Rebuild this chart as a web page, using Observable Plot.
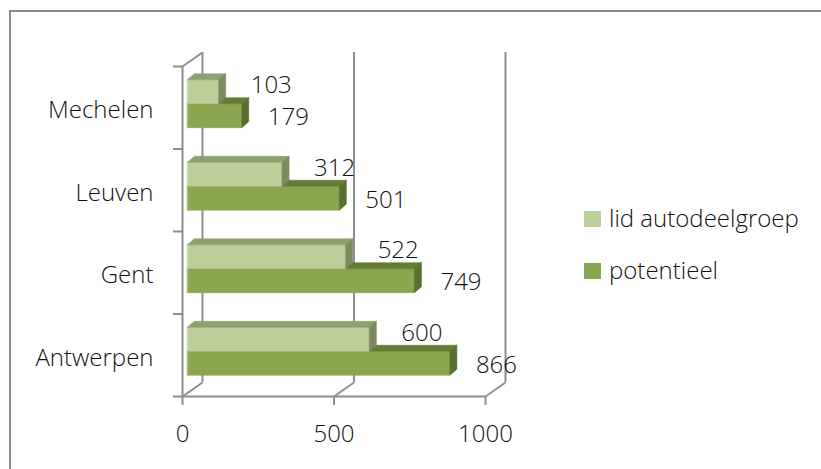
<!DOCTYPE html>
<html>
<head>
<meta charset="utf-8">
<script src="https://cdn.jsdelivr.net/npm/d3@7"></script>
<script src="https://cdn.jsdelivr.net/npm/@observablehq/plot@0.6"></script>
<style>
  html, body { margin: 0; padding: 0; background: #fff; }
  body { width: 821px; height: 469px; position: relative; overflow: hidden;
         font-family: "Segoe UI", "Open Sans", sans-serif; color: #111; }
  #border { position: absolute; left: 9px; top: 10px; width: 830px; height: 480px;
            border-left: 2px solid #8c8c8c; border-top: 2px solid #8c8c8c; }
  #chart { position: absolute; left: 0; top: 0; }
  .legend-row { position: absolute; left: 584px; font-size: 24px; line-height: 24px;
                font-weight: 300; white-space: nowrap; }
  .swatch { display: inline-block; width: 17px; height: 16px; margin-right: 8px; vertical-align: baseline; }
</style>
</head>
<body>
<div id="border"></div>
<div id="chart"></div>
<div id="legend"></div>
<script>
// Autodelen per stad: leden van een autodeelgroep versus het potentieel
const cities = ["Mechelen", "Leuven", "Gent", "Antwerpen"];
const members = [103, 312, 522, 600];      // lid autodeelgroep
const potential = [179, 501, 749, 866];    // potentieel
const xTicks = [0, 500, 1000];
const seriesNames = ["lid autodeelgroep", "potentieel"];

// Colours of the three visible faces of each bar
const palette = {
  lid: {front: "#bccf98", top: "#8fa070", side: "#7b8b5d"},
  pot: {front: "#8aa64f", top: "#647c36", side: "#58702d"}
};
const gridColor = "#8e8e8e";
const textColor = "#111111";

// Layout
const W = 560, H = 469;
const margin = {top: 66, right: 75, bottom: 73, left: 182};
const xMax = xTicks[xTicks.length - 1];
const nCat = cities.length;
const kx = (W - margin.left - margin.right) / xMax;   // px per value unit
const ky = (H - margin.top - margin.bottom) / nCat;   // px per category band

// pixel offsets for the pseudo-3D look
const FRONT = [5, -4];   // bar front faces sit a little behind the front plane
const DEPTH = [7, -6];   // thickness of the bars
const WALL = [20, -14];  // back wall
const BAND = [0.21, 0.5, 0.79]; // lid bar: BAND[0]..BAND[1], potentieel: BAND[1]..BAND[2]

const shift = (v, u, px, py) => ({x: v + px / kx, y: u + py / ky});

function faceRows(values, b0, b1, face) {
  const rows = [];
  values.forEach((v, i) => {
    const u1 = i + b0, u2 = i + b1;
    const f = (x, u) => shift(x, u, FRONT[0], FRONT[1]);
    const b = (x, u) => shift(x, u, FRONT[0] + DEPTH[0], FRONT[1] + DEPTH[1]);
    let pts;
    if (face === "front") pts = [f(0, u1), f(v, u1), f(v, u2), f(0, u2)];
    else if (face === "top") pts = [f(0, u1), f(v, u1), b(v, u1), b(0, u1)];
    else pts = [f(v, u1), f(v, u2), b(v, u2), b(v, u1)];
    pts.forEach(p => rows.push({id: i, x: p.x, y: p.y}));
  });
  return rows;
}

function barMarks(values, b0, b1, colors) {
  return ["front", "top", "side"].map(face =>
    Plot.line(faceRows(values, b0, b1, face), {
      x: "x", y: "y", z: "id", curve: "linear-closed",
      fill: colors[face], stroke: colors[face], strokeWidth: 0.6
    })
  );
}

// floor edges and the top edge of the side wall
const edges = xTicks.map(v => ({a: {x: v, y: nCat}, b: shift(v, nCat, WALL[0], WALL[1])}))
  .concat([{a: {x: 0, y: 0}, b: shift(0, 0, WALL[0], WALL[1])}]);

const lidLabels = members.map((v, i) => ({x: v, y: i + (BAND[0] + BAND[1]) / 2, t: String(v)}));
const potLabels = potential.map((v, i) => ({x: v, y: i + (BAND[1] + BAND[2]) / 2, t: String(v)}));

const textStyle = {fontSize: 24, fontWeight: 300, fill: textColor};

const chart = Plot.plot({
  width: W, height: H,
  marginTop: margin.top, marginRight: margin.right, marginBottom: margin.bottom, marginLeft: margin.left,
  style: {background: "transparent", overflow: "visible", fontFamily: '"Segoe UI", "Open Sans", sans-serif'},
  x: {domain: [0, xMax], axis: null},
  y: {domain: [0, nCat], reverse: true, axis: null},
  marks: [
    // back wall gridlines
    Plot.ruleX(xTicks, {dx: WALL[0], dy: WALL[1], stroke: gridColor, strokeWidth: 2}),
    Plot.link(edges, {x1: d => d.a.x, y1: d => d.a.y, x2: d => d.b.x, y2: d => d.b.y,
                      stroke: gridColor, strokeWidth: 2}),
    // bars
    ...barMarks(potential, BAND[1], BAND[2], palette.pot),
    ...barMarks(members, BAND[0], BAND[1], palette.lid),
    // front axes
    Plot.ruleX([0], {stroke: gridColor, strokeWidth: 2}),
    Plot.ruleY([nCat], {stroke: gridColor, strokeWidth: 2}),
    Plot.axisY({anchor: "left", ticks: d3.range(0, nCat + 1), tickFormat: () => "", tickSize: 9,
                label: null, stroke: gridColor, strokeWidth: 2}),
    Plot.axisY({anchor: "left", ticks: cities.map((c, i) => i + 0.5), tickFormat: d => cities[Math.floor(d)],
                label: null, tickSize: 0, tickPadding: 29, dy: 3, stroke: "none", ...textStyle}),
    Plot.axisX({anchor: "bottom", ticks: xTicks, tickFormat: d => String(d), label: null,
                tickSize: 9, tickPadding: 19, stroke: gridColor, strokeWidth: 2, ...textStyle}),
    // value labels
    Plot.text(lidLabels, {x: "x", y: "y", text: "t", textAnchor: "start",
                          dx: FRONT[0] + 32, dy: FRONT[1] - 6, ...textStyle}),
    Plot.text(potLabels, {x: "x", y: "y", text: "t", textAnchor: "start",
                          dx: FRONT[0] + 26, dy: FRONT[1] + 2, ...textStyle})
  ]
});
document.getElementById("chart").appendChild(chart);

// legend
const legend = document.getElementById("legend");
const legendColors = [palette.lid.front, palette.pot.front];
const legendTops = [206, 258];
seriesNames.forEach((name, i) => {
  const row = document.createElement("div");
  row.className = "legend-row";
  row.style.top = legendTops[i] + "px";
  const sw = document.createElement("span");
  sw.className = "swatch";
  sw.style.background = legendColors[i];
  row.appendChild(sw);
  row.appendChild(document.createTextNode(name));
  legend.appendChild(row);
});
</script>
</body>
</html>
